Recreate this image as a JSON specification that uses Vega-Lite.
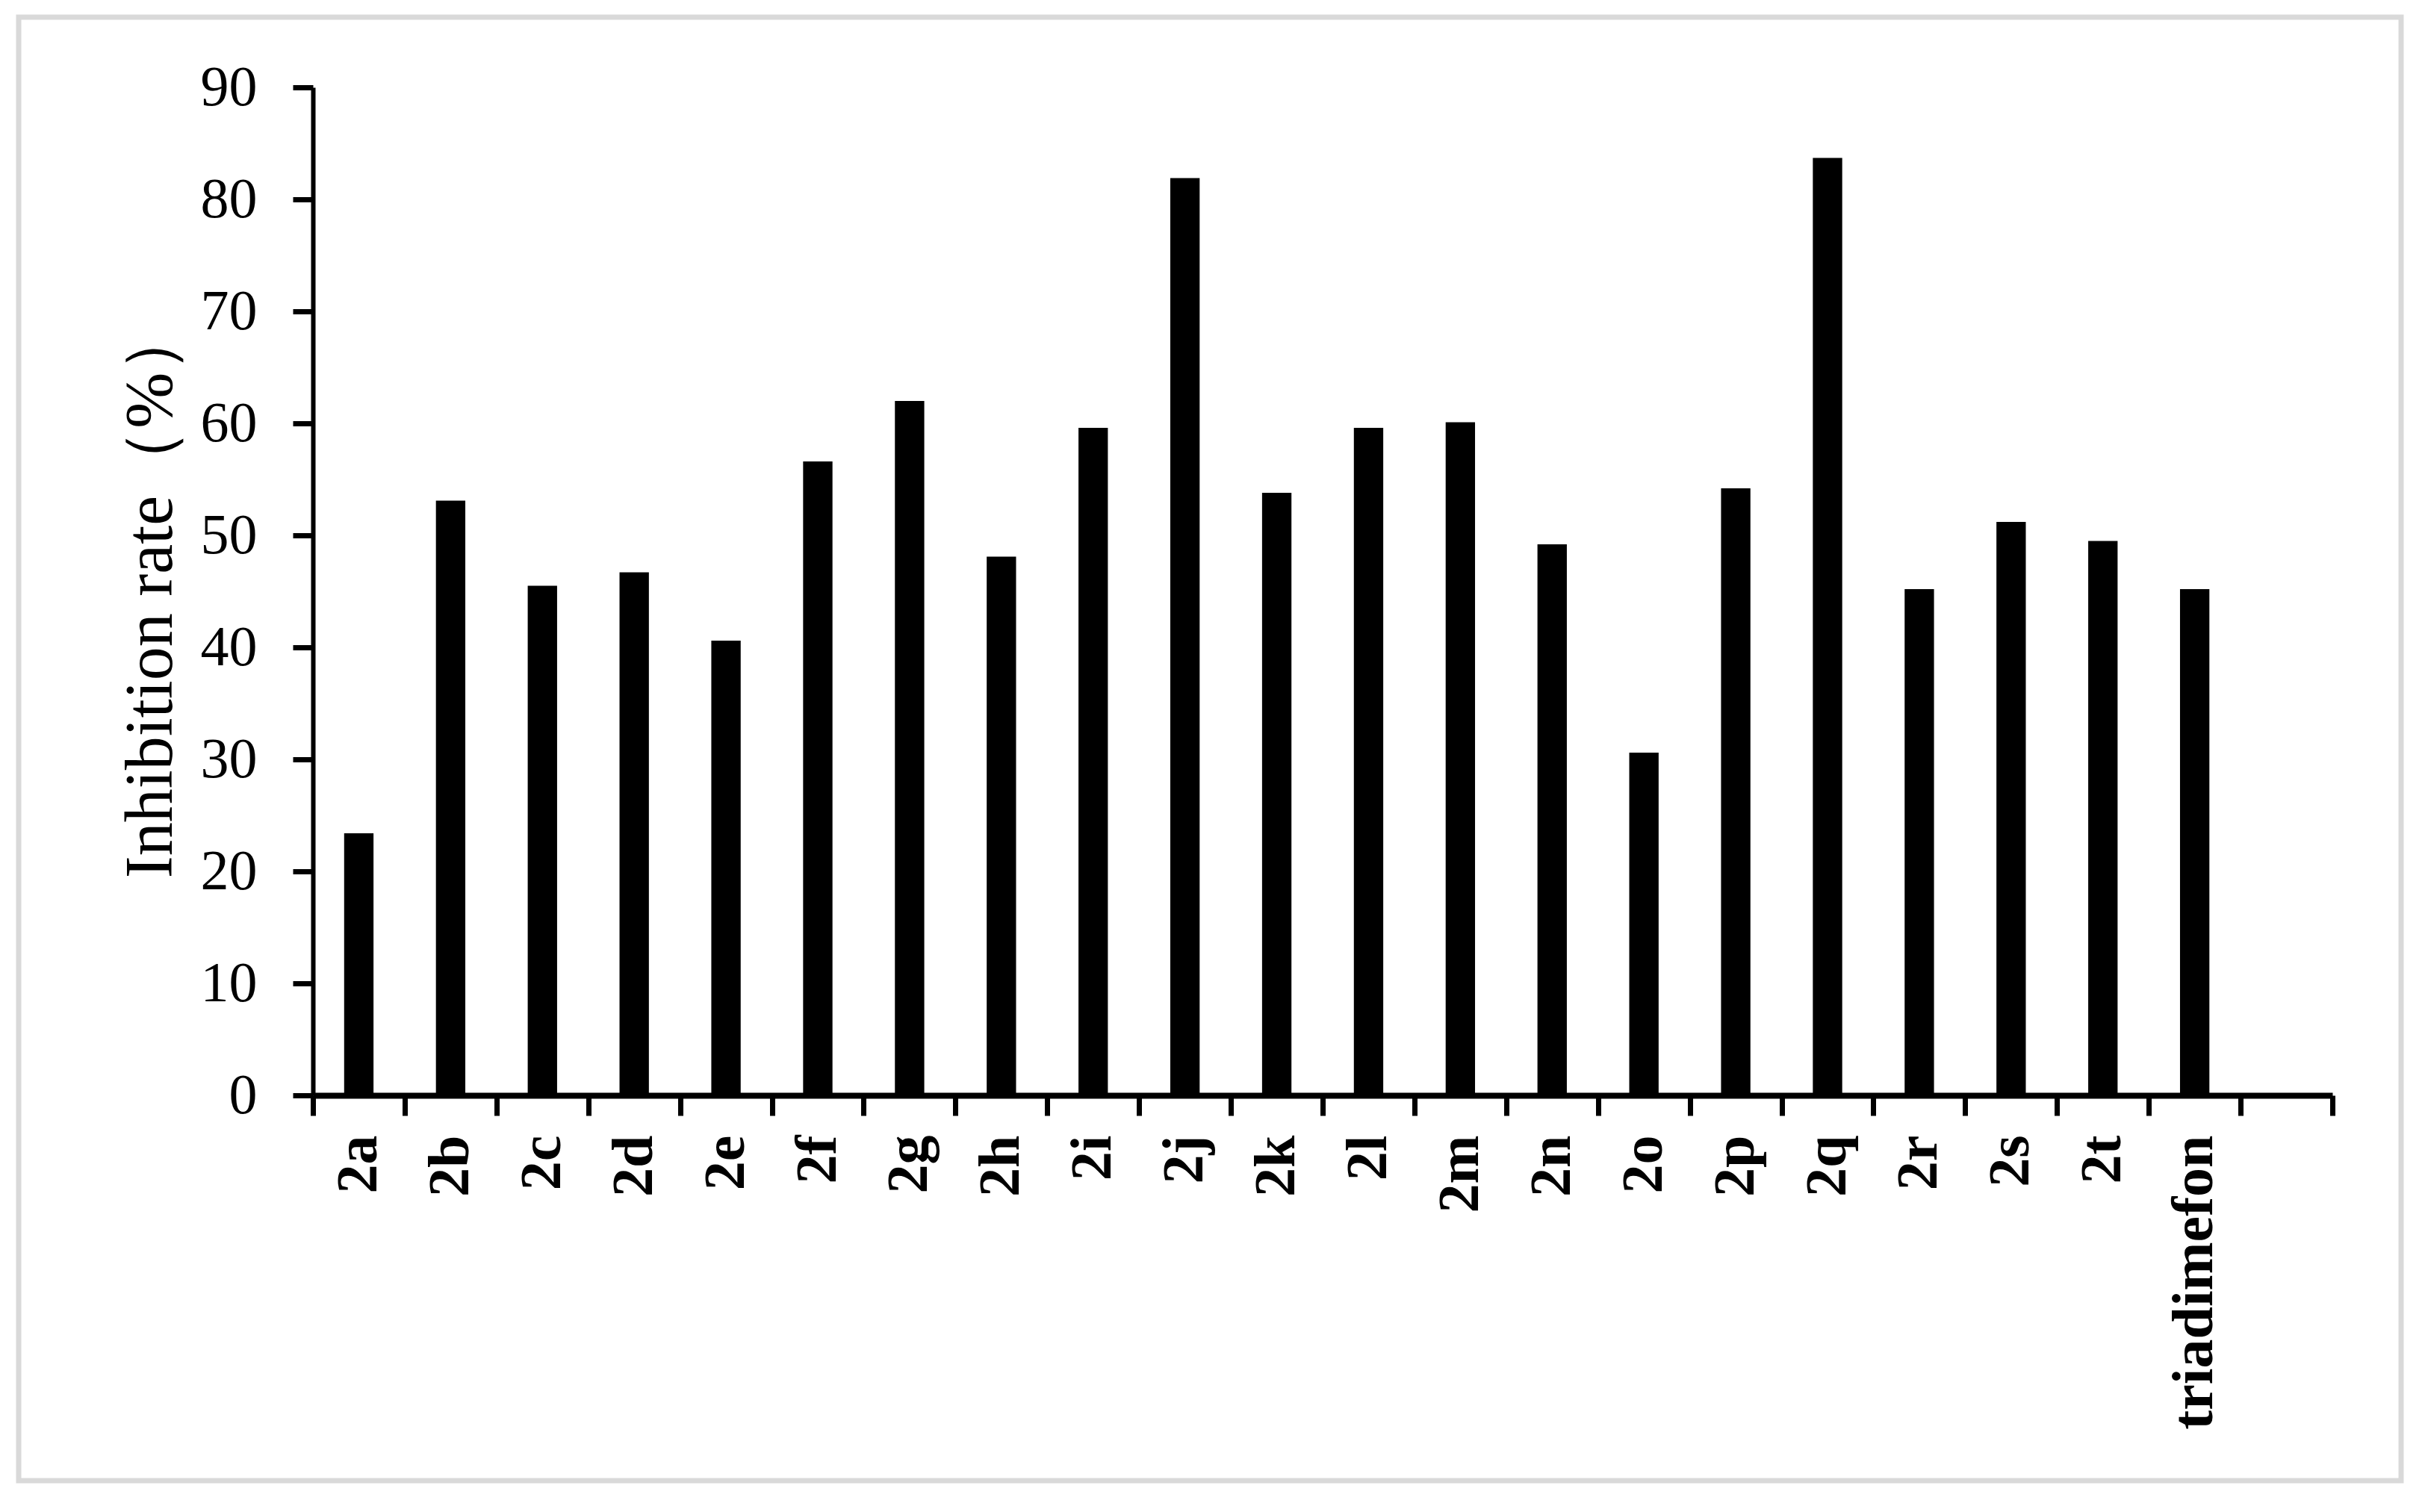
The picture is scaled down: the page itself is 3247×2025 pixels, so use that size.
{
  "$schema": "https://vega.github.io/schema/vega-lite/v6.json",
  "autosize": {"type": "none"},
  "width": 3190,
  "height": 1960,
  "padding": {"left": 25, "top": 23, "right": 32, "bottom": 42},
  "background": "white",
  "config": {
    "view": {"stroke": "#d9d9d9", "strokeWidth": 7},
    "axis": {"grid": false}
  },
  "data": {
    "values": [
      {"compound": "2a", "rate": 23.4},
      {"compound": "2b", "rate": 53.1},
      {"compound": "2c", "rate": 45.5},
      {"compound": "2d", "rate": 46.7},
      {"compound": "2e", "rate": 40.6},
      {"compound": "2f", "rate": 56.6},
      {"compound": "2g", "rate": 62.0},
      {"compound": "2h", "rate": 48.1},
      {"compound": "2i", "rate": 59.6},
      {"compound": "2j", "rate": 81.9},
      {"compound": "2k", "rate": 53.8},
      {"compound": "2l", "rate": 59.6},
      {"compound": "2m", "rate": 60.1},
      {"compound": "2n", "rate": 49.2},
      {"compound": "2o", "rate": 30.6},
      {"compound": "2p", "rate": 54.2},
      {"compound": "2q", "rate": 83.7},
      {"compound": "2r", "rate": 45.2},
      {"compound": "2s", "rate": 51.2},
      {"compound": "2t", "rate": 49.5},
      {"compound": "triadimefon", "rate": 45.2}
    ]
  },
  "mark": {"type": "bar", "color": "black", "width": {"band": 0.32}},
  "encoding": {
    "x": {
      "field": "compound",
      "type": "nominal",
      "sort": null,
      "scale": {
        "domain": ["2a","2b","2c","2d","2e","2f","2g","2h","2i","2j","2k","2l","2m","2n","2o","2p","2q","2r","2s","2t","triadimefon"," "],
        "range": [394, 3098],
        "paddingInner": 0,
        "paddingOuter": 0
      },
      "axis": {
        "title": null,
        "orient": "bottom",
        "offset": -516,
        "tickBand": "extent",
        "domainColor": "black",
        "domainWidth": 8,
        "tickColor": "black",
        "tickWidth": 7,
        "tickSize": 27,
        "labelAngle": 270,
        "labelAlign": "right",
        "labelBaseline": "middle",
        "labelPadding": 26,
        "labelLimit": 0,
        "labelFont": "Liberation Serif",
        "labelFontWeight": "bold",
        "labelFontSize": 78,
        "labelColor": "black"
      }
    },
    "y": {
      "field": "rate",
      "type": "quantitative",
      "scale": {"domain": [0, 90], "range": [1444, 94], "nice": false},
      "axis": {
        "title": "Inhibition rate（%）",
        "orient": "left",
        "offset": -394,
        "values": [0,10,20,30,40,50,60,70,80,90],
        "domainColor": "black",
        "domainWidth": 6,
        "tickColor": "black",
        "tickWidth": 7,
        "tickSize": 27,
        "labelPadding": 48,
        "labelFont": "Liberation Serif",
        "labelFontSize": 76,
        "labelColor": "black",
        "titleFont": "Liberation Serif",
        "titleFontWeight": "normal",
        "titleFontSize": 90,
        "titleColor": "black",
        "titlePadding": 20,
        "titleLimit": 0
      }
    }
  }
}
